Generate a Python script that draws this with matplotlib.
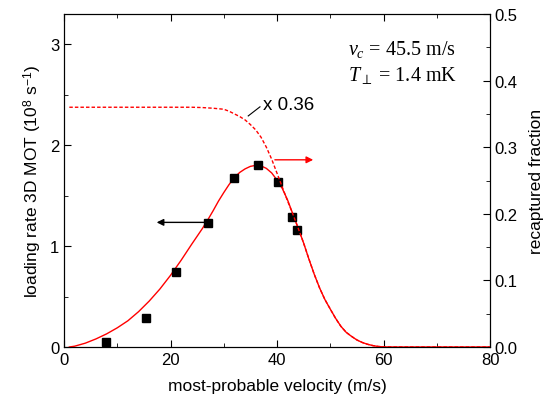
import matplotlib
matplotlib.use("Agg")
import matplotlib.pyplot as plt
from matplotlib.ticker import MultipleLocator

plt.rcParams['font.family'] = ['Liberation Sans', 'DejaVu Sans']
plt.rcParams['mathtext.fontset'] = 'custom'
plt.rcParams['mathtext.rm'] = 'Liberation Sans'
plt.rcParams['mathtext.it'] = 'Liberation Serif:italic'
plt.rcParams['mathtext.bf'] = 'Liberation Sans:bold'

# measured loading rate (10^8 s^-1)
meas_v = [7.8, 15.4, 21.1, 27.1, 32.0, 36.5, 40.1, 42.9, 43.8]
meas_rate = [0.05, 0.29, 0.74, 1.23, 1.67, 1.80, 1.64, 1.29, 1.16]

# model loading rate curve (left axis)
model_v = [1, 2, 4, 6, 8, 10, 12, 14, 16, 18, 20, 22, 24, 26, 27, 28, 29, 30,
           31, 32, 33, 34, 35, 36, 37, 38, 39, 40, 41, 42, 43, 44, 45, 46, 47,
           48, 49, 50, 51, 52, 53, 54, 55, 56, 57, 58, 59, 60, 62, 70, 80]
model_rate = [0, 0.008, 0.038, 0.08, 0.13, 0.19, 0.26, 0.35, 0.455, 0.574,
              0.71, 0.86, 1.02, 1.175, 1.26, 1.35, 1.445, 1.53, 1.61, 1.68,
              1.73, 1.765, 1.79, 1.80, 1.795, 1.77, 1.725, 1.655, 1.57, 1.455,
              1.315, 1.175, 1.03, 0.87, 0.72, 0.585, 0.47, 0.376, 0.285, 0.205,
              0.145, 0.105, 0.07, 0.045, 0.027, 0.014, 0.005, 0.001, 0, 0, 0]

# recaptured fraction curve (right axis)
frac_v = [1, 10, 20, 24, 26, 28, 30, 31, 32, 33, 34, 35, 36, 37, 38, 39, 40,
          41, 42, 43, 44, 45, 46, 47, 48, 49, 50, 51, 52, 53, 54, 55, 56, 57,
          58, 59, 60, 62, 70, 80]
frac = [0.36, 0.36, 0.36, 0.36, 0.3595, 0.3585, 0.357, 0.354, 0.350, 0.346,
        0.341, 0.334, 0.326, 0.315, 0.300, 0.282, 0.261, 0.240, 0.219, 0.199,
        0.178, 0.156, 0.132, 0.109, 0.0886, 0.0712, 0.057, 0.043, 0.031, 0.022,
        0.016, 0.0106, 0.0068, 0.0041, 0.0021, 0.0008, 0.0002, 0, 0, 0]

RED = '#ff0000'

fig = plt.figure(figsize=(5.5, 4.02), dpi=100)
ax = fig.add_axes([64/550, 54/402, 426/550, 333/402])
ax2 = ax.twinx()

ax.plot(model_v, model_rate, color=RED, lw=1.0, zorder=3)
ax.plot(meas_v, meas_rate, 's', color='black', ms=5.5, zorder=4)
ax2.plot(frac_v, frac, color=RED, lw=1.0, dashes=(2.5, 1.5))

ax.set_xlim(0, 80)
ax.set_ylim(0, 3.3)
ax2.set_ylim(0, 0.5)

ax.xaxis.set_major_locator(MultipleLocator(20))
ax.xaxis.set_minor_locator(MultipleLocator(10))
ax.yaxis.set_major_locator(MultipleLocator(1))
ax.yaxis.set_minor_locator(MultipleLocator(0.5))
ax2.yaxis.set_major_locator(MultipleLocator(0.1))
ax2.yaxis.set_minor_locator(MultipleLocator(0.05))
ax2.yaxis.set_major_formatter(plt.FormatStrFormatter('%.1f'))

ax.tick_params(axis='x', which='both', direction='in', top=True, labelsize=12)
ax.tick_params(axis='y', which='both', direction='in', right=False, labelsize=12)
ax.tick_params(which='major', length=5)
ax.tick_params(which='minor', length=3)
ax2.tick_params(axis='y', which='both', direction='in', labelsize=12)
ax2.tick_params(which='major', length=5)
ax2.tick_params(which='minor', length=3)

ax.set_xlabel('most-probable velocity (m/s)', fontsize=12.5, labelpad=8)
ax.set_ylabel('loading rate 3D MOT (10$^{8}$ s$^{-1}$)', fontsize=12.5, labelpad=4)
ax2.set_ylabel('recaptured fraction', fontsize=12.5, labelpad=8)

# arrows
ax.annotate('', xy=(17.4, 1.235), xytext=(27.1, 1.235),
            arrowprops=dict(arrowstyle='-|>', color='black', lw=1.0,
                            mutation_scale=10, shrinkA=0, shrinkB=0))
ax.annotate('', xy=(46.8, 1.855), xytext=(39.6, 1.855),
            arrowprops=dict(arrowstyle='-|>', color=RED, lw=1.0,
                            mutation_scale=10, shrinkA=0, shrinkB=0))

# x 0.36 label with leader
ax.plot([34.6, 36.8], [2.29, 2.38], color='black', lw=0.8)
ax.text(37.4, 2.40, 'x 0.36', fontsize=13.5, va='center', ha='left')

ax.text(53.4, 2.90, '$v_c$ = 45.5 m/s', fontsize=14.5,
        family=['Liberation Serif', 'DejaVu Serif'], va='baseline')
ax.text(53.4, 2.65, r'$T_\perp$ = 1.4 mK', fontsize=14.5,
        family=['Liberation Serif', 'DejaVu Serif'], va='baseline')

fig.savefig('out.png', dpi=100)
